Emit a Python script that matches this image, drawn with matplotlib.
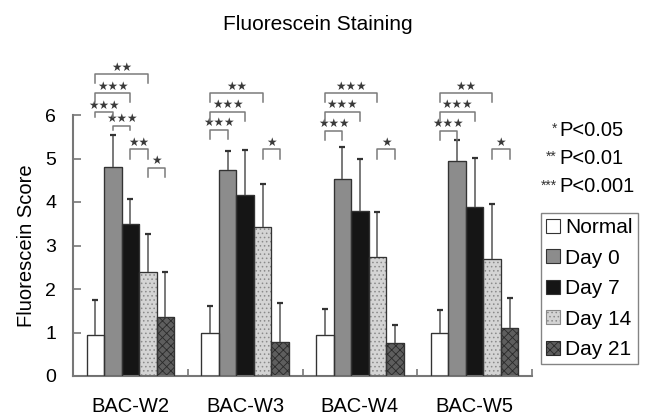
import numpy as np
import matplotlib
matplotlib.use("Agg")
import matplotlib.pyplot as plt

plt.rcParams['font.family'] = ['Liberation Sans', 'DejaVu Sans']
plt.rcParams['hatch.linewidth'] = 0.6

groups = ['BAC-W2', 'BAC-W3', 'BAC-W4', 'BAC-W5']
series = ['Normal', 'Day 0', 'Day 7', 'Day 14', 'Day 21']

normal = [0.94, 0.98, 0.95, 0.99]
day0 = [4.81, 4.74, 4.52, 4.94]
day7 = [3.49, 4.15, 3.80, 3.89]
day14 = [2.38, 3.43, 2.73, 2.69]
day21 = [1.36, 0.78, 0.77, 1.10]

normal_err = [0.80, 0.64, 0.60, 0.53]
day0_err = [0.72, 0.43, 0.75, 0.48]
day7_err = [0.57, 1.04, 1.18, 1.13]
day14_err = [0.88, 0.98, 1.03, 1.26]
day21_err = [1.04, 0.90, 0.40, 0.69]

# significance brackets: (group, bar a, bar b, height, number of stars)
brackets = [
    (0, 0, 3, 6.94, 2), (0, 0, 2, 6.50, 3), (0, 0, 1, 6.06, 3),
    (0, 1, 2, 5.75, 3), (0, 2, 3, 5.21, 2), (0, 3, 4, 4.79, 1),
    (1, 0, 3, 6.50, 2), (1, 0, 2, 6.08, 3), (1, 0, 1, 5.66, 3), (1, 3, 4, 5.21, 1),
    (2, 0, 3, 6.50, 3), (2, 0, 2, 6.08, 3), (2, 0, 1, 5.64, 3), (2, 3, 4, 5.21, 1),
    (3, 0, 3, 6.50, 2), (3, 0, 2, 6.08, 3), (3, 0, 1, 5.64, 3), (3, 3, 4, 5.21, 1),
]
short_legs = {(0, 0, 1), (0, 1, 2)}

p_labels = [('*', 'P<0.05'), ('**', 'P<0.01'), ('***', 'P<0.001')]

means = [normal, day0, day7, day14, day21]
errs = [normal_err, day0_err, day7_err, day14_err, day21_err]
faces = ['white', '#8c8c8c', '#151515', '#d4d4d4', '#5e5e5e']
hatches = [None, None, None, '....', 'xxxx']
hatch_cols = ['#333333', '#333333', '#333333', '#8a8a8a', '#2a2a2a']

fig = plt.figure(figsize=(6.48, 4.17), dpi=100)
ax = fig.add_axes([73/648, 1-376/417, 459/648, 261/417])

x = np.arange(len(groups))
w = 0.1526
for k in range(5):
    pos = x + (k - 2) * w
    ax.bar(pos, means[k], w, color=faces[k], edgecolor=hatch_cols[k], hatch=hatches[k],
           linewidth=0.8, label=series[k], zorder=2)
    ax.bar(pos, means[k], w, color='none', edgecolor='#333333', linewidth=0.9, zorder=3)
    tops = np.array(means[k]) + np.array(errs[k])
    ax.vlines(pos, means[k], tops, color='#555555', linewidth=1.1, zorder=4)
    ax.plot(pos, tops, linestyle='none', marker='_', markersize=5, color='#333333',
            markeredgewidth=1.6, zorder=4)

for g, a, b, h, n in brackets:
    xa = g + (a - 2) * w
    xb = g + (b - 2) * w
    leg = 0.1 if (g, a, b) in short_legs else 0.21
    ax.plot([xa, xa, xb, xb], [h - leg, h, h, h - leg], color='#7a7a7a', linewidth=1.1,
            clip_on=False, zorder=5)
    ax.text((xa + xb) / 2, h + 0.01, '\u2605' * n, ha='center', va='bottom', fontsize=8.5,
            family='DejaVu Sans', color='#3a3a3a', clip_on=False)

ax.set_xlim(-0.5, 3.5)
ax.set_ylim(0, 6)
ax.set_yticks(range(7))
ax.tick_params(axis='y', direction='in', length=6, width=1.2, color='#777777',
               labelsize=14, pad=12)
ax.set_xticks(x)
ax.set_xticklabels(groups)
ax.tick_params(axis='x', which='major', length=0, labelsize=14.5, pad=15)
ax.set_xticks(np.arange(0.5, 4, 1), minor=True)
ax.tick_params(axis='x', which='minor', direction='in', length=5, width=1.2, color='#777777')
for s in ['top', 'right']:
    ax.spines[s].set_visible(False)
for s in ['left', 'bottom']:
    ax.spines[s].set_color('#777777')
    ax.spines[s].set_linewidth(1.5)
ax.set_ylabel('Fluorescein Score', fontsize=14.5, labelpad=7)

fig.text(318/648, 1-30/417, 'Fluorescein Staining', ha='center', va='baseline', fontsize=15)

for i, (st, txt) in enumerate(p_labels):
    yy = 1 - (130 + i * 28.5) / 417
    fig.text(557/648, yy + 0.004, st, ha='right', va='center', fontsize=10, color='#333333')
    fig.text(559/648, yy, txt, ha='left', va='center', fontsize=14.5)

leg = ax.legend(loc='upper left', bbox_to_anchor=(541/648, 1-213/417),
                bbox_transform=fig.transFigure, fontsize=15, frameon=True, fancybox=False,
                handlelength=0.65, handleheight=0.65, handletextpad=0.25, labelspacing=0.55,
                borderpad=0.25, borderaxespad=0)
leg.get_frame().set_edgecolor('#666666')
leg.get_frame().set_linewidth(1.0)

fig.savefig('out.png', dpi=100)
